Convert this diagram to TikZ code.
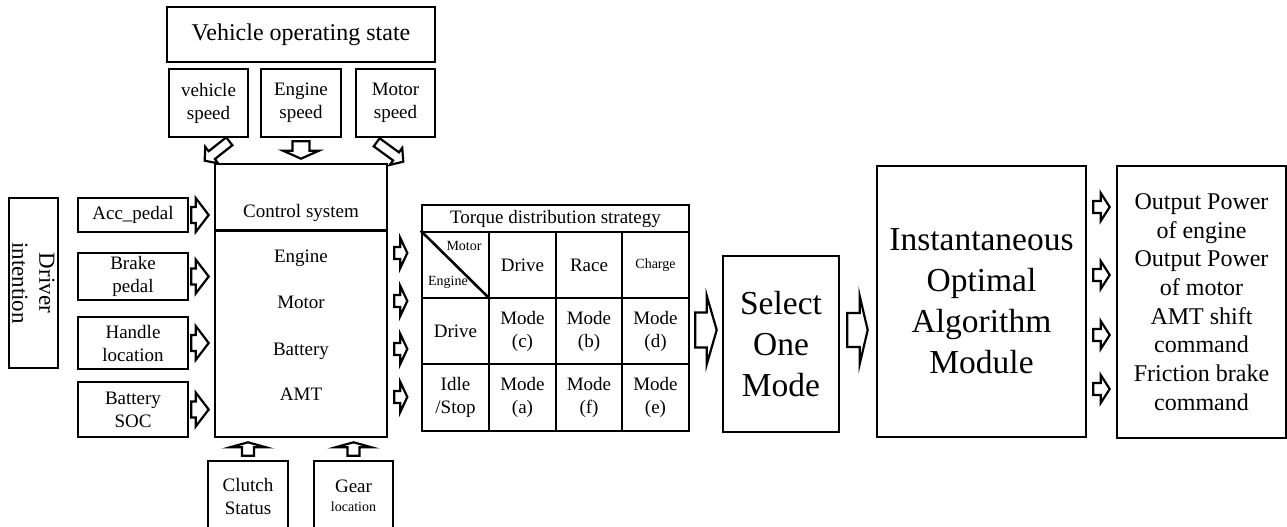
\documentclass[tikz,border=0pt]{standalone}
\usepackage{fontspec}
\setmainfont{Liberation Serif}
\usetikzlibrary{calc}
\tikzset{
  box/.style={draw, line width=2.6pt, inner sep=0pt, align=center},
  cell/.style={box, minimum width=67, minimum height=66},
  barrow/.style={draw, line width=2.2pt, fill=white, line join=miter},
  thickline/.style={line width=2.6pt},
  fA/.style={font=\fontsize{19}{23}\selectfont},
  fB/.style={font=\fontsize{24}{28}\selectfont},
  fC/.style={font=\fontsize{33.5}{41}\selectfont},
  fD/.style={font=\fontsize{23}{27}\selectfont},
  fE/.style={font=\fontsize{14}{16}\selectfont},
  fF/.style={font=\fontsize{24}{28.7}\selectfont},
}
% block arrow: from #1 to #2, half shaft #3, half head #4, head length #5
\newcommand\blockarr[5]{%
  \path ($(#2)!#5!(#1)$) coordinate (bah);
  \draw[barrow] ($(#1)!#3!90:(#2)$) -- ($(bah)!#3!90:(#2)$) -- ($(bah)!#4!90:(#2)$) -- (#2)
     -- ($(bah)!#4!-90:(#2)$) -- ($(bah)!#3!-90:(#2)$) -- ($(#1)!#3!-90:(#2)$) -- cycle;}
\begin{document}
\begin{tikzpicture}[x=1pt,y=-1pt]
\useasboundingbox (0,0) rectangle (1287,527);
\clip (0,0) rectangle (1287,527);

% vehicle operating state
\node[box, minimum width=268, minimum height=55, fB] (vos) at (301,34.5) {Vehicle operating state};
\node[box, minimum width=79, minimum height=68, fA] (vs) at (208.5,103) {vehicle\\speed};
\node[box, minimum width=80, minimum height=68, fA] (es) at (301,103) {Engine\\speed};
\node[box, minimum width=79, minimum height=68, fA] (ms) at (395.5,103) {Motor\\speed};

% control system
\node[box, minimum width=172, minimum height=273] (ctrl) at (301,300.5) {};
\draw[thickline] ([yshift=-68pt]ctrl.north west) -- ([yshift=-68pt]ctrl.north east);
\node[fA, anchor=base] (ctitle) at (301,217) {Control system};
\node[fA, anchor=base] (ceng) at (301,262) {Engine};
\node[fA, anchor=base] (cmot) at (301,308) {Motor};
\node[fA, anchor=base] (cbat) at (301,355) {Battery};
\node[fA, anchor=base] (camt) at (301,400) {AMT};

% driver intention
\node[box, rotate=-90, minimum width=170, minimum height=49, fD] (drv) at (33.5,283) {Driver\\intention};
\node[box, minimum width=110, minimum height=34, fA] (acc) at (133,215) {Acc\_pedal};
\node[box, minimum width=110, minimum height=47, fA] (brk) at (133,276.5) {Brake\\pedal};
\node[box, minimum width=110, minimum height=52, fA] (hdl) at (133,343) {Handle\\location};
\node[box, minimum width=110, minimum height=55, fA] (bat) at (133,409.5) {Battery\\SOC};

% bottom inputs
\node[box, minimum width=80, minimum height=70, fA] (clu) at (248,496) {Clutch\\Status};
\node[box, minimum width=79, minimum height=70, fA] (gear) at (353.5,496) {Gear\\[-4pt]{\fontsize{14}{16}\selectfont location}};

% torque distribution table
\node[box, minimum width=267, minimum height=27, fA] (tt) at (555.5,218.5) {Torque distribution strategy};
\node[cell] (c11) at (455.5,265) {};
\draw[thickline] (c11.north west) -- (c11.south east);
\node[fE] (cmo) at (464,246) {Motor};
\node[fE] (cen) at (448,282) {Engine};
\node[cell, fA] (c12) at (522.5,265) {Drive};
\node[cell, fA, minimum width=66] (c13) at (589,265) {Race};
\node[cell, fE] (c14) at (655.5,265) {Charge};
\node[cell, fA] (c21) at (455.5,331) {Drive};
\node[cell, fA] (c22) at (522.5,331) {Mode\\(c)};
\node[cell, fA, minimum width=66] (c23) at (589,331) {Mode\\(b)};
\node[cell, fA] (c24) at (655.5,331) {Mode\\(d)};
\node[cell, fA, minimum height=67] (c31) at (455.5,397.5) {Idle\\/Stop};
\node[cell, fA, minimum height=67] (c32) at (522.5,397.5) {Mode\\(a)};
\node[cell, fA, minimum height=67, minimum width=66] (c33) at (589,397.5) {Mode\\(f)};
\node[cell, fA, minimum height=67] (c34) at (655.5,397.5) {Mode\\(e)};

% select, algorithm, output
\node[box, minimum width=116, minimum height=176, fC] (sel) at (781,344) {Select\\One\\Mode};
\node[box, minimum width=209, minimum height=271, fC] (inst) at (981.5,301.5) {Instantaneous\\Optimal\\Algorithm\\Module};
\node[box, minimum width=169, minimum height=272, fF] (out) at (1201.5,302) {Output Power\\of engine\\Output Power\\of motor\\AMT shift\\command\\Friction brake\\command};

% ---- arrows ----
% top inputs
\coordinate (vsA) at ($(vs.south east)+(-20,3)$);
\coordinate (vsB) at ($(ctrl.north west)+(-9,-2)$);
\blockarr{vsA}{vsB}{5pt}{10.5pt}{9pt}
\coordinate (esA) at ($(es.south)+(0,3)$);
\coordinate (esB) at ($(es.south |- ctrl.north)+(0,-4)$);
\blockarr{esA}{esB}{8.5pt}{18pt}{8pt}
\coordinate (msA) at ($(ms.south west)+(22,4)$);
\coordinate (msB) at ($(ctrl.north east)+(15,-1)$);
\blockarr{msA}{msB}{5pt}{10.5pt}{9pt}

% left inputs
\coordinate (accA) at ($(acc.east)+(2,0)$);
\coordinate (accB) at ($(acc.east -| ctrl.west)+(-5,0)$);
\blockarr{accA}{accB}{8pt}{17pt}{13pt}
\coordinate (brkA) at ($(brk.east)+(2,0)$);
\coordinate (brkB) at ($(brk.east -| ctrl.west)+(-5,0)$);
\blockarr{brkA}{brkB}{8pt}{17pt}{13pt}
\coordinate (hdlA) at ($(hdl.east)+(2,0)$);
\coordinate (hdlB) at ($(hdl.east -| ctrl.west)+(-5,0)$);
\blockarr{hdlA}{hdlB}{8pt}{17pt}{13pt}
\coordinate (batA) at ($(bat.east)+(2,0)$);
\coordinate (batB) at ($(bat.east -| ctrl.west)+(-5,0)$);
\blockarr{batA}{batB}{8pt}{17pt}{13pt}

% bottom inputs
\coordinate (cluA) at ($(clu.north)+(0,-4)$);
\coordinate (cluB) at ($(clu.north |- ctrl.south)+(0,4)$);
\blockarr{cluA}{cluB}{6pt}{18pt}{5pt}
\coordinate (gearA) at ($(gear.north)+(0,-4)$);
\coordinate (gearB) at ($(gear.north |- ctrl.south)+(0,4)$);
\blockarr{gearA}{gearB}{6pt}{18pt}{5pt}

% control outputs
\coordinate (o1A) at ($(ctrl.east |- ceng.base)+(6,-9)$);
\coordinate (o1B) at ($(o1A)+(13,0)$);
\blockarr{o1A}{o1B}{6pt}{15pt}{7pt}
\coordinate (o2A) at ($(ctrl.east |- cmot.base)+(6,-7)$);
\coordinate (o2B) at ($(o2A)+(13,0)$);
\blockarr{o2A}{o2B}{6pt}{15pt}{7pt}
\coordinate (o3A) at ($(ctrl.east |- cbat.base)+(6,-6)$);
\coordinate (o3B) at ($(o3A)+(13,0)$);
\blockarr{o3A}{o3B}{6pt}{15pt}{7pt}
\coordinate (o4A) at ($(ctrl.east |- camt.base)+(6,-3)$);
\coordinate (o4B) at ($(o4A)+(13,0)$);
\blockarr{o4A}{o4B}{6pt}{15pt}{7pt}

% table -> select -> algorithm
\coordinate (tsA) at ($(c24.east)+(5,-1)$);
\coordinate (tsB) at ($(sel.west |- tsA)+(-5,0)$);
\blockarr{tsA}{tsB}{17.5pt}{34.5pt}{10pt}
\coordinate (siA) at ($(sel.east |- tsA)+(7,0)$);
\coordinate (siB) at ($(inst.west |- tsA)+(-8,0)$);
\blockarr{siA}{siB}{17pt}{34pt}{8pt}

% algorithm -> outputs
\coordinate (p1A) at ($(inst.east)+(6,-94.5)$);
\coordinate (p1B) at ($(out.west |- p1A)+(-6,0)$);
\blockarr{p1A}{p1B}{6pt}{14pt}{9pt}
\coordinate (p2A) at ($(inst.east)+(6,-26.5)$);
\coordinate (p2B) at ($(out.west |- p2A)+(-6,0)$);
\blockarr{p2A}{p2B}{6pt}{14pt}{9pt}
\coordinate (p3A) at ($(inst.east)+(6,33.5)$);
\coordinate (p3B) at ($(out.west |- p3A)+(-6,0)$);
\blockarr{p3A}{p3B}{6pt}{14pt}{9pt}
\coordinate (p4A) at ($(inst.east)+(6,87.5)$);
\coordinate (p4B) at ($(out.west |- p4A)+(-6,0)$);
\blockarr{p4A}{p4B}{6pt}{14pt}{9pt}
\end{tikzpicture}
\end{document}
